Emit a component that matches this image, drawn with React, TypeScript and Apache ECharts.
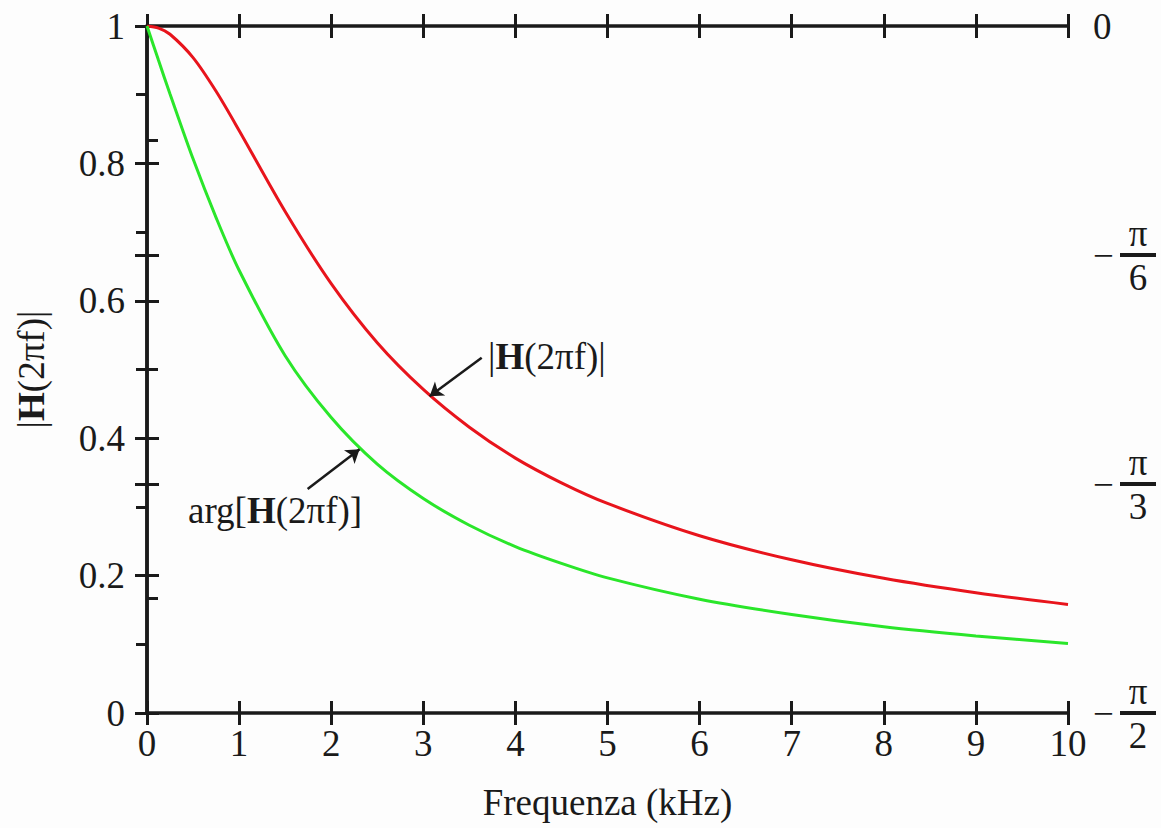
import React, { useEffect, useRef } from "react";
import * as echarts from "echarts";

// Frequency samples (kHz)
const freq = [0, 0.125, 0.25, 0.5, 0.75, 1, 1.5, 2, 2.5, 3, 3.5, 4, 4.5, 5, 6, 7, 8, 9, 10];
// |H(2πf)|
const magnitude = [1, 0.997, 0.988, 0.954, 0.905, 0.848, 0.73, 0.625, 0.539, 0.471, 0.416, 0.371, 0.335, 0.305, 0.258, 0.223, 0.196, 0.175, 0.158];
const phaseDeg = [0, -4.5, -8.9, -17.4, -25.1, -32.0, -43.2, -51.3, -57.4, -61.9, -65.4, -68.2, -70.4, -72.3, -75.1, -77.1, -78.7, -79.9, -80.9];

const xTicks = { min: 0, max: 10, interval: 1 };
const leftTicks = { min: 0, max: 1, interval: 0.2 };
const rightTicks = { min: -90, max: 0, interval: 30 };
const rightDenominators: Record<string, string> = { "-30": "6", "-60": "3", "-90": "2" };

// annotation arrows (start -> tip) in data coords (freq, magnitude)
const magArrow = [[3.634, 0.517], [3.069, 0.461]];
const phaseArrow = [[1.744, 0.326], [2.308, 0.384]];

const FONT = "Liberation Serif";
const INK = "#1a1a1a";

export default function App() {
  const ref = useRef<HTMLDivElement>(null);
  useEffect(() => {
    if (!ref.current) return;
    const chart = echarts.init(ref.current, null, { renderer: "svg" });
    const axisLine = { show: true, lineStyle: { color: INK, width: 3.5 } };
    const tick = (inside: boolean) => ({ show: true, inside, length: 12, lineStyle: { color: INK, width: 3 } });
    const hidden = { show: false };
    const labelStyle = { color: INK, fontFamily: FONT, fontSize: 37 };

    const series: any[] = [
      {
        type: "line",
        name: "mag",
        xAxisIndex: 0,
        yAxisIndex: 0,
        data: freq.map((f, i) => [f, magnitude[i]]),
        smooth: 0.3,
        showSymbol: false,
        lineStyle: { color: "#e8141c", width: 3 },
        itemStyle: { color: "#e8141c" },
        markLine: {
          silent: true,
          animation: false,
          symbol: ["none", "arrow"],
          symbolSize: 13,
          label: { show: false },
          lineStyle: { color: INK, width: 2.5, type: "solid" },
          data: [
            [{ coord: magArrow[0] }, { coord: magArrow[1] }],
            [{ coord: phaseArrow[0] }, { coord: phaseArrow[1] }],
          ],
        },
      },
      {
        type: "line",
        name: "phase",
        xAxisIndex: 0,
        yAxisIndex: 2,
        data: freq.map((f, i) => [f, phaseDeg[i]]),
        smooth: 0.3,
        showSymbol: false,
        lineStyle: { color: "#2ae62a", width: 3 },
        itemStyle: { color: "#2ae62a" },
      },
    ];

    chart.setOption({
      animation: false,
      backgroundColor: "#fdfdfd",
      textStyle: { fontFamily: FONT },
      grid: { left: 147, right: 93, top: 26, bottom: 115, containLabel: false },
      xAxis: [
        {
          type: "value", position: "bottom", ...xTicks,
          axisLine, axisTick: tick(false), splitLine: hidden,
          axisLabel: { ...labelStyle, margin: 12 },
          name: "Frequenza (kHz)", nameLocation: "middle", nameGap: 71,
          nameTextStyle: { ...labelStyle },
        },
        { type: "value", position: "bottom", ...xTicks, axisLine: hidden, axisTick: tick(true), axisLabel: hidden, splitLine: hidden },
        { type: "value", position: "top", ...xTicks, axisLine, axisTick: tick(false), axisLabel: hidden, splitLine: hidden },
        { type: "value", position: "top", ...xTicks, axisLine: hidden, axisTick: tick(true), axisLabel: hidden, splitLine: hidden },
      ],
      yAxis: [
        {
          type: "value", position: "left", ...leftTicks,
          axisLine, axisTick: tick(false), splitLine: hidden,
          minorTick: { show: true, splitNumber: 2, length: 11, lineStyle: { color: INK, width: 3 } },
          minorSplitLine: hidden,
          axisLabel: { ...labelStyle, margin: 22, formatter: (v: number) => String(Math.round(v * 10) / 10) },
          name: "{n||}{b|H}{n|(2πf)|}", nameLocation: "middle", nameGap: 97, nameRotate: 90,
          nameTextStyle: {
            ...labelStyle,
            rich: {
              n: { fontFamily: FONT, fontSize: 37, color: INK },
              b: { fontFamily: FONT, fontSize: 37, color: INK, fontWeight: "bold" },
            },
          },
        },
        { type: "value", position: "left", ...leftTicks, axisLine: hidden, axisTick: tick(true), axisLabel: hidden, splitLine: hidden },
        {
          type: "value", position: "right", ...rightTicks,
          axisLine, axisTick: tick(false), splitLine: hidden,
          minorTick: { show: true, splitNumber: 2, length: 11, lineStyle: { color: INK, width: 3 } },
          minorSplitLine: hidden,
          axisLabel: {
            ...labelStyle,
            margin: 25,
            align: "left",
            formatter: (v: number) => {
              const key = String(Math.round(v));
              if (key === "0") return "{z|0}";
              const d = rightDenominators[key];
              if (!d) return "";
              return `{sp| }{n|π}\n{m|−}{bar| }\n{sp| }{n|${d}}`;
            },
            rich: {
              z: { fontFamily: FONT, fontSize: 37, color: INK },
              sp: { width: 27, fontSize: 10, lineHeight: 34 },
              n: { width: 36, align: "center", fontFamily: FONT, fontSize: 37, color: INK, lineHeight: 34 },
              m: { width: 27, fontFamily: FONT, fontSize: 37, color: INK, lineHeight: 10 },
              bar: { width: 36, height: 4, fontSize: 4, lineHeight: 10, backgroundColor: INK },
            },
          },
        },
        { type: "value", position: "right", ...rightTicks, axisLine: hidden, axisTick: tick(true), axisLabel: hidden, splitLine: hidden },
      ],
      graphic: [
        {
          type: "text", left: 488, top: 338,
          style: {
            text: "{n||}{b|H}{n|(2πf)|}",
            rich: {
              n: { fontFamily: FONT, fontSize: 37, fill: INK },
              b: { fontFamily: FONT, fontSize: 37, fill: INK, fontWeight: "bold" },
            },
          },
        },
        {
          type: "text", left: 188, top: 492,
          style: {
            text: "{n|arg[}{b|H}{n|(2πf)]}",
            rich: {
              n: { fontFamily: FONT, fontSize: 37, fill: INK },
              b: { fontFamily: FONT, fontSize: 37, fill: INK, fontWeight: "bold" },
            },
          },
        },
      ],
      series,
    });
    return () => chart.dispose();
  }, []);
  return <div ref={ref} style={{ position: "absolute", left: 0, top: 0, width: 1161, height: 828 }} />;
}
